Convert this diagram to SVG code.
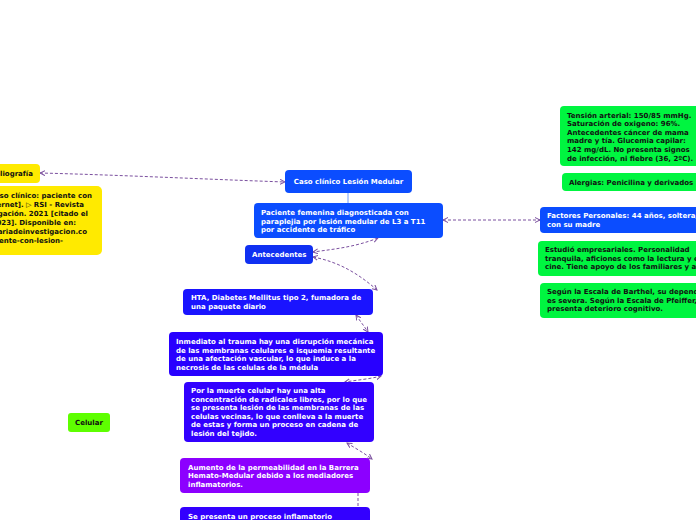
<svg xmlns="http://www.w3.org/2000/svg" width="696" height="520" viewBox="0 0 696 520">
<style>
text{font-family:"DejaVu Sans","Verdana",sans-serif;font-weight:bold;font-size:7px}
.w{fill:#ffffff}
.k{fill:#111111}
.c{fill:none;stroke:#7b509f;stroke-width:1;stroke-dasharray:3 2}
</style>
<defs>
<marker id="a" viewBox="0 0 6 6" refX="5" refY="3" markerWidth="6" markerHeight="6" orient="auto-start-reverse" markerUnits="userSpaceOnUse">
<path d="M0,0.5 L5,3 L0,5.5" fill="none" stroke="#7b509f" stroke-width="1"/>
</marker>
</defs>
<rect width="696" height="520" fill="#ffffff"/>
<g id="connectors">
<path class="c" d="M40,173 C120,175 200,179 285,182" marker-start="url(#a)" marker-end="url(#a)"/>
<path d="M348,193 L348,203" stroke="#6f9cff" stroke-width="1" fill="none"/>
<path class="c" d="M443,220 L540,220" marker-start="url(#a)" marker-end="url(#a)"/>
<path class="c" d="M378,238 C355,247 335,249 313,252" marker-start="url(#a)" marker-end="url(#a)"/>
<path class="c" d="M313,257 C340,262 360,275 377,290" marker-start="url(#a)" marker-end="url(#a)"/>
<path class="c" d="M356,315 C360,321 364,326 368,332" marker-start="url(#a)" marker-end="url(#a)"/>
<path class="c" d="M381,376 C370,379 357,380 345,382" marker-start="url(#a)" marker-end="url(#a)"/>
<path class="c" d="M347,443 C355,448 364,453 372,459" marker-start="url(#a)" marker-end="url(#a)"/>
<path class="c" d="M358,493 L358,507"/>
</g>
<g id="bibliografia">
<rect x="-20" y="164" width="60" height="19" rx="4" fill="#ffea00"/>
<text class="k" x="33" y="176" text-anchor="end">Bibliografía</text>
</g>
<g id="referencia">
<rect x="-20" y="186" width="122" height="69" rx="5" fill="#ffea00"/>
<text class="k" x="92" y="198" text-anchor="end">Caso clínico: paciente con</text>
<text class="k" x="84" y="207" text-anchor="end">[Internet]. ▷ RSI - Revista</text>
<text class="k" x="88" y="216" text-anchor="end">Investigación. 2021 [citado el</text>
<text class="k" x="76" y="225" text-anchor="end">2023]. Disponible en:</text>
<text class="k" x="87" y="234" text-anchor="end">https://revistasanitariadeinvestigacion.co</text>
<text class="k" x="63" y="243" text-anchor="end">m/caso-clinico-paciente-con-lesion-</text>
</g>
<g id="root">
<rect x="285" y="170" width="127" height="23" rx="4" fill="#0b4dff"/>
<text class="w" x="348.5" y="184" text-anchor="middle">Caso clínico Lesión Medular</text>
</g>
<g id="paciente">
<rect x="254" y="203" width="189" height="35" rx="4" fill="#0b4dff"/>
<text class="w" x="261" y="215">Paciente femenina diagnosticada con</text>
<text class="w" x="261" y="224">paraplejia por lesión medular de L3 a T11</text>
<text class="w" x="261" y="232">por accidente de tráfico</text>
</g>
<g id="antecedentes">
<rect x="245" y="245" width="68" height="19" rx="4" fill="#1030f2"/>
<text class="w" x="252" y="257">Antecedentes</text>
</g>
<g id="hta">
<rect x="183" y="289" width="190" height="26" rx="4" fill="#1a14ff"/>
<text class="w" x="191" y="300">HTA, Diabetes Mellitus tipo 2, fumadora de</text>
<text class="w" x="191" y="309">una paquete diario</text>
</g>
<g id="inmediato">
<rect x="169" y="332" width="214" height="44" rx="4" fill="#2800ff"/>
<text class="w" x="176" y="344">Inmediato al trauma hay una disrupción mecánica</text>
<text class="w" x="176" y="353">de las membranas celulares e isquemia resultante</text>
<text class="w" x="176" y="361">de una afectación vascular, lo que induce a la</text>
<text class="w" x="176" y="370">necrosis de las celulas de la médula</text>
</g>
<g id="muerte">
<rect x="184" y="382" width="190" height="60" rx="4" fill="#3200ff"/>
<text class="w" x="191" y="393">Por la muerte celular hay una alta</text>
<text class="w" x="191" y="402">concentración de radicales libres, por lo que</text>
<text class="w" x="191" y="410">se presenta lesión de las membranas de las</text>
<text class="w" x="191" y="419">celulas vecinas, lo que conlleva a la muerte</text>
<text class="w" x="191" y="427">de estas y forma un proceso en cadena de</text>
<text class="w" x="191" y="436">lesión del tejido.</text>
</g>
<g id="aumento">
<rect x="180" y="458" width="190" height="35" rx="4" fill="#8c00ff"/>
<text class="w" x="188" y="470">Aumento de la permeabilidad en la Barrera</text>
<text class="w" x="188" y="478">Hemato-Medular debido a los mediadores</text>
<text class="w" x="188" y="487">inflamatorios.</text>
</g>
<g id="inflamatorio">
<rect x="180" y="507" width="190" height="24" rx="4" fill="#3300ff"/>
<text class="w" x="188" y="519">Se presenta un proceso inflamatorio</text>
</g>
<g id="celular">
<rect x="68" y="413" width="42" height="19" rx="3" fill="#5eff00"/>
<text class="k" x="89" y="425" text-anchor="middle">Celular</text>
</g>
<g id="tension">
<rect x="560" y="106" width="150" height="60" rx="4" fill="#00f540"/>
<text class="k" x="567" y="118">Tensión arterial: 150/85 mmHg.</text>
<text class="k" x="567" y="126">Saturación de oxigeno: 96%.</text>
<text class="k" x="567" y="135">Antecedentes cáncer de mama</text>
<text class="k" x="567" y="143">madre y tía. Glucemia capilar:</text>
<text class="k" x="567" y="152">142 mg/dL. No presenta signos</text>
<text class="k" x="567" y="161">de infección, ni fiebre (36, 2ºC).</text>
</g>
<g id="alergias">
<rect x="562" y="173" width="150" height="18" rx="4" fill="#00f540"/>
<text class="k" x="569" y="185">Alergias: Penicilina y derivados</text>
</g>
<g id="factores">
<rect x="540" y="207" width="170" height="26" rx="4" fill="#0b4dff"/>
<text class="w" x="547" y="218">Factores Personales: 44 años, soltera, vive</text>
<text class="w" x="547" y="227">con su madre</text>
</g>
<g id="estudio">
<rect x="538" y="241" width="170" height="35" rx="4" fill="#00f540"/>
<text class="k" x="545" y="252">Estudió empresariales. Personalidad</text>
<text class="k" x="545" y="261">tranquila, aficiones como la lectura y el</text>
<text class="k" x="545" y="269">cine. Tiene apoyo de los familiares y amigos.</text>
</g>
<g id="barthel">
<rect x="540" y="283" width="170" height="35" rx="4" fill="#00f540"/>
<text class="k" x="547" y="294">Según la Escala de Barthel, su dependencia</text>
<text class="k" x="547" y="303">es severa. Según la Escala de Pfeiffer, no</text>
<text class="k" x="547" y="311">presenta deterioro cognitivo.</text>
</g>
</svg>
